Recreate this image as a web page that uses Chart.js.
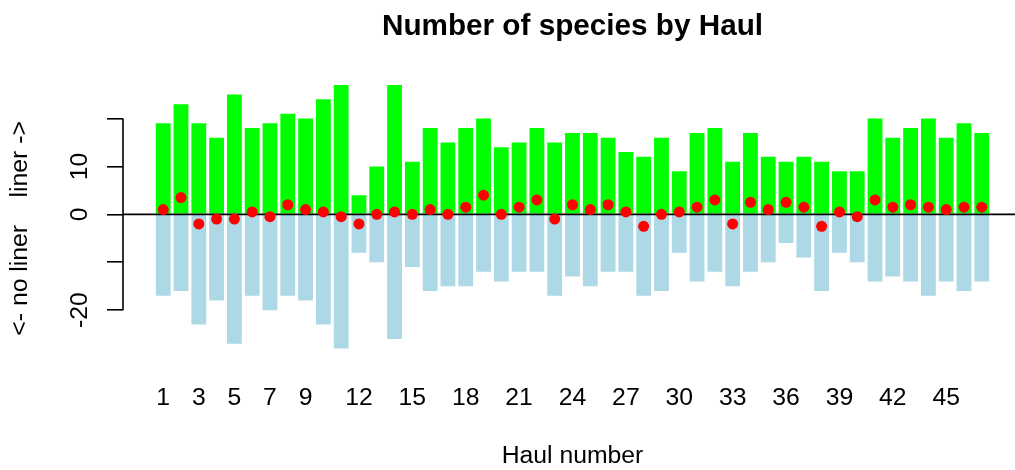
<!DOCTYPE html>
<html>
<head>
<meta charset="utf-8">
<script src="https://cdn.jsdelivr.net/npm/chart.js@4.4.1/dist/chart.umd.min.js"></script>
<style>
  html, body { margin: 0; padding: 0; background: #ffffff; overflow: hidden; }
  #wrap { width: 1015px; height: 470px; overflow: hidden; }
  canvas { display: block; }
</style>
</head>
<body>
<div id="wrap"><canvas id="c" width="1030" height="470"></canvas></div>
<script>
// ---- data ----
const hauls = [1,2,3,4,5,6,7,8,9,10,11,12,13,14,15,16,17,18,19,20,21,22,23,24,25,26,27,28,29,30,31,32,33,34,35,36,37,38,39,40,41,42,43,44,45,46,47];
const linerSpecies = [19,23,19,16,25,18,19,21,20,24,27,4,10,27,11,18,15,18,20,14,15,18,15,17,17,16,13,12,16,9,17,18,11,17,12,11,12,11,9,9,20,16,18,20,16,19,17];
const noLinerSpecies = [17,16,23,18,27,17,20,17,18,23,28,8,10,26,11,16,15,15,12,14,12,12,17,13,15,12,12,17,16,8,14,12,15,12,10,6,9,16,8,10,14,13,14,17,14,16,14];
const halfDifference = [1,3.5,-2,-1,-1,0.5,-0.5,2,1,0.5,-0.5,-2,0,0.5,0,1,0,1.5,4,0,1.5,3,-1,2,1,2,0.5,-2.5,0,0.5,1.5,3,-2,2.5,1,2.5,1.5,-2.5,0.5,-0.5,3,1.5,2,1.5,1,1.5,1.5];
const xTickValues = [1,3,5,7,9,12,15,18,21,24,27,30,33,36,39,42,45];
const yTickValues = [-20,-10,0,10,20];
const yTickLabels = ['-20','','0','10',''];

const FONT = '"Liberation Sans", Arial, Helvetica, sans-serif';
const AXIS_PX = 24.75;
const xPad = 2.26;

const linerData = linerSpecies.map((v, i) => ({x: hauls[i], y: v}));
const noLinerData = noLinerSpecies.map((v, i) => ({x: hauls[i], y: -v}));
const diffData = halfDifference.map((v, i) => ({x: hauls[i], y: v}));

const rAxisPlugin = {
  id: 'rAxis',
  beforeDatasetDraw(chart, args) {
    if (args.index !== 2) return;
    const ctx = chart.ctx, y = chart.scales.y, a = chart.chartArea;
    const py = y.getPixelForValue(0);
    ctx.save();
    ctx.strokeStyle = '#000';
    ctx.lineWidth = 1.8;
    ctx.beginPath();
    ctx.moveTo(a.left, py);
    ctx.lineTo(a.right, py);
    ctx.stroke();
    ctx.restore();
  },
  afterDraw(chart) {
    const ctx = chart.ctx, y = chart.scales.y, a = chart.chartArea;
    ctx.save();
    ctx.strokeStyle = '#000';
    ctx.lineWidth = 1.6;
    ctx.beginPath();
    ctx.moveTo(a.left, y.getPixelForValue(yTickValues[0]));
    ctx.lineTo(a.left, y.getPixelForValue(yTickValues[yTickValues.length - 1]));
    ctx.stroke();
    ctx.fillStyle = '#000';
    ctx.font = AXIS_PX + 'px ' + FONT;
    ctx.textAlign = 'center';
    ctx.textBaseline = 'alphabetic';
    yTickValues.forEach((v, i) => {
      const lab = yTickLabels[i];
      if (!lab) return;
      ctx.save();
      ctx.translate(86.7, y.getPixelForValue(v));
      ctx.rotate(-Math.PI / 2);
      ctx.fillText(lab, 0, 0);
      ctx.restore();
    });
    ctx.save();
    ctx.translate(26.7, 228.4);
    ctx.rotate(-Math.PI / 2);
    ctx.fillText('<- no liner    liner ->', 0, 0);
    ctx.restore();
    ctx.restore();
  }
};

new Chart(document.getElementById('c'), {
  type: 'bar',
  data: {
    datasets: [
      { type: 'bar', label: 'liner', data: linerData, backgroundColor: '#00FF00', borderWidth: 0, order: 2, grouped: false, barPercentage: 0.833, categoryPercentage: 1.0 },
      { type: 'bar', label: 'no liner', data: noLinerData, backgroundColor: '#ADD8E6', borderWidth: 0, order: 1, grouped: false, barPercentage: 0.833, categoryPercentage: 1.0 },
      { type: 'line', label: 'difference', data: diffData, showLine: false, pointRadius: 5.5, pointBackgroundColor: '#FF0000', pointBorderColor: '#FF0000', pointBorderWidth: 0, order: 0 }
    ]
  },
  options: {
    responsive: false,
    animation: false,
    devicePixelRatio: 1,
    layout: { padding: { left: 0, right: 8, top: 0, bottom: 0 } },
    plugins: {
      legend: { display: false },
      tooltip: { enabled: false },
      title: {
        display: true,
        fullSize: false,
        text: 'Number of species by Haul',
        color: '#000',
        font: { family: FONT, size: 29.7, weight: 'bold', lineHeight: 1.2 },
        padding: { top: 8.5, bottom: 30.3 }
      }
    },
    scales: {
      x: {
        type: 'linear',
        offset: false,
        min: hauls[0] - xPad,
        max: hauls[hauls.length - 1] + xPad,
        grid: { display: false, drawTicks: false },
        border: { display: false },
        afterBuildTicks(scale) { scale.ticks = xTickValues.map(v => ({ value: v })); },
        afterFit(scale) { scale.height = 111; },
        ticks: {
          autoSkip: false,
          maxRotation: 0,
          minRotation: 0,
          padding: 24.5,
          color: '#000',
          font: { family: FONT, size: AXIS_PX, lineHeight: 1.2 },
          callback: (v) => String(v)
        },
        title: {
          display: true,
          text: 'Haul number',
          color: '#000',
          font: { family: FONT, size: AXIS_PX, lineHeight: 1.1 },
          padding: { top: 0, bottom: 0 }
        }
      },
      y: {
        min: -30.2,
        max: 29.2,
        afterBuildTicks(scale) { scale.ticks = yTickValues.map(v => ({ value: v })); },
        afterFit(scale) { scale.width = 123; },
        grid: { display: true, drawOnChartArea: false, drawTicks: true, tickLength: 16, color: '#000', lineWidth: 1.6 },
        border: { display: false },
        ticks: { display: false }
      }
    }
  },
  plugins: [rAxisPlugin]
});
</script>
</body>
</html>
